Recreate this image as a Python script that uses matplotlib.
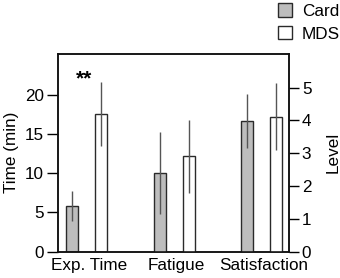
import matplotlib.pyplot as plt
import matplotlib.patches as mpatches
import numpy as np

plt.rcParams['font.family'] = ['Liberation Sans', 'DejaVu Sans']

# ── data ────────────────────────────────────────────────
categories = ['Exp. Time', 'Fatigue', 'Satisfaction']
series = ['Card', 'MDS']

# Exp. Time is in minutes (left axis)
time_card, time_card_sd = 5.8, 1.95
time_mds, time_mds_sd = 17.5, 4.05

# Fatigue / Satisfaction are levels (right axis)
level_card = [2.4, 3.98]
level_card_sd = [1.25, 0.81]
level_mds = [2.9, 4.11]
level_mds_sd = [1.12, 1.02]

colors = ['#bdbdbd', 'white']
edge = '#2a2a2a'
err_color = '#555555'
bar_w = 0.137
off = 0.166
fs = 12.3

fig = plt.figure(figsize=(3.4, 2.78), dpi=100)
ax = fig.add_axes([0.170, 0.0953, 0.681, 0.711])
ax2 = ax.twinx()

x = np.arange(len(categories))
err_kw = dict(ecolor=err_color, elinewidth=1.0, capsize=0)

# left axis: Exp. Time
ax.bar(x[0] - off, time_card, bar_w, yerr=time_card_sd, color=colors[0],
       edgecolor=edge, linewidth=1.0, error_kw=err_kw)
ax.bar(x[0] + off, time_mds, bar_w, yerr=time_mds_sd, color=colors[1],
       edgecolor=edge, linewidth=1.0, error_kw=err_kw)

# right axis: levels
ax2.bar(x[1:] - off, level_card, bar_w, yerr=level_card_sd, color=colors[0],
        edgecolor=edge, linewidth=1.0, error_kw=err_kw)
ax2.bar(x[1:] + off, level_mds, bar_w, yerr=level_mds_sd, color=colors[1],
        edgecolor=edge, linewidth=1.0, error_kw=err_kw)

ax.text(x[0] - 0.03, 22.0, '**', ha='center', va='center', fontsize=15,
        fontweight='bold')

ax.set_xlim(-0.332, 2.32)
ax.set_ylim(0, 25.2)
ax2.set_ylim(0, 6.03)
ax.set_yticks([0, 5, 10, 15, 20])
ax2.set_yticks([0, 1, 2, 3, 4, 5])
ax.set_xticks(x + 0.03)
ax.set_xticklabels(categories)

ax.set_ylabel('Time (min)', fontsize=fs, labelpad=4)
ax2.set_ylabel('Level', fontsize=fs, labelpad=10.5)

ax.tick_params(axis='x', length=0, pad=5, labelsize=fs)
ax.tick_params(axis='y', length=8, width=1.0, labelsize=fs, pad=2)
ax2.tick_params(axis='y', length=7, width=1.0, labelsize=fs, pad=2)
for a in (ax, ax2):
    for s in a.spines.values():
        s.set_linewidth(1.1)
        s.set_color('#111111')

handles = [mpatches.Patch(facecolor=c, edgecolor=edge, linewidth=1.0, label=s)
           for c, s in zip(colors, series)]
fig.legend(handles=handles, loc='upper right', bbox_to_anchor=(1.03, 1.025),
           frameon=False, fontsize=fs, handlelength=0.85, handleheight=0.85,
           handletextpad=0.55, labelspacing=0.4, borderaxespad=0.2)

plt.savefig('out.png', dpi=100)
